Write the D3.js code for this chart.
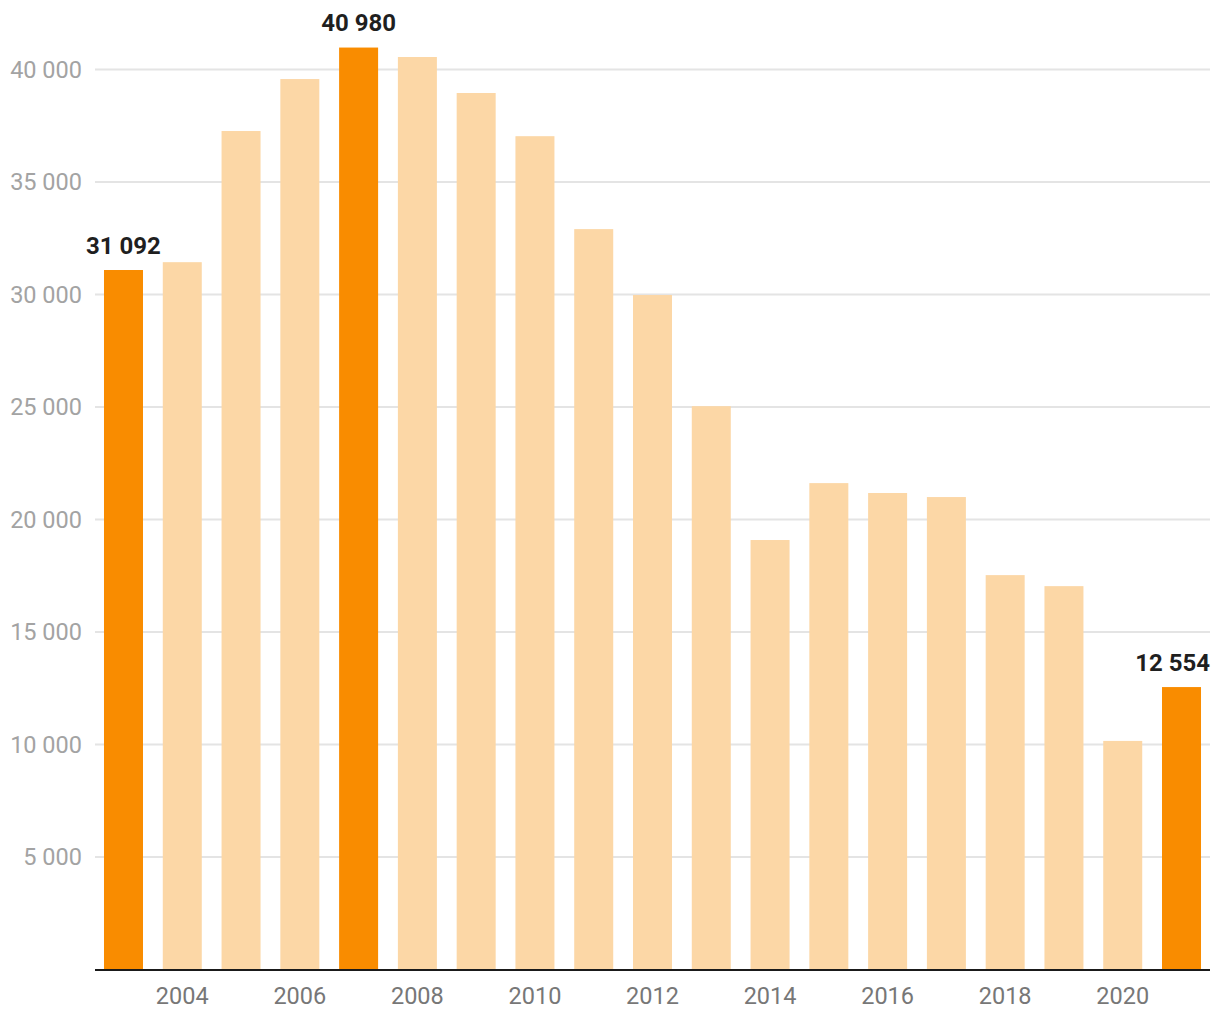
<!DOCTYPE html>
<html>
<head>
<meta charset="utf-8">
<script src="https://cdn.jsdelivr.net/npm/d3@7"></script>
<style>
  html, body { margin: 0; padding: 0; background: #ffffff; }
  svg { display: block; font-family: Roboto, "Noto Sans", sans-serif; }
</style>
</head>
<body>
<svg id="chart" width="1220" height="1020"></svg>
<script>
const years = [2003, 2004, 2005, 2006, 2007, 2008, 2009, 2010, 2011, 2012, 2013, 2014, 2015, 2016, 2017, 2018, 2019, 2020, 2021];
const values = [31092, 31440, 37270, 39580, 40980, 40560, 38960, 37040, 32910, 29980, 25040, 19090, 21620, 21180, 21000, 17530, 17040, 10160, 12554];
const highlighted = [2003, 2007, 2021];
const yTicks = [5000, 10000, 15000, 20000, 25000, 30000, 35000, 40000];
const xTickLabels = [2004, 2006, 2008, 2010, 2012, 2014, 2016, 2018, 2020];

const svg = d3.select("#chart");
const left = 95, right = 1210;
const fmt = v => d3.format(",")(v).replace(/,/g, " ");

const x = d3.scaleBand().domain(years).range([left, right]).paddingInner(0.3365).paddingOuter(0.153);
const y = d3.scaleLinear().domain([0, 40000]).range([969.5, 69.6]);

// gridlines
svg.append("g").selectAll("line").data(yTicks).join("line")
  .attr("x1", left).attr("x2", right)
  .attr("y1", d => y(d)).attr("y2", d => y(d))
  .attr("stroke", "#e4e4e4").attr("stroke-width", 2);

// y labels
svg.append("g").selectAll("text").data(yTicks).join("text")
  .attr("x", 82).attr("y", d => y(d))
  .attr("text-anchor", "end").attr("dominant-baseline", "central")
  .attr("font-size", 23.5).attr("fill", "#a3a3a3")
  .text(d => fmt(d));

// bars
svg.append("g").selectAll("rect").data(years).join("rect")
  .attr("x", d => x(d)).attr("width", x.bandwidth())
  .attr("y", (d, i) => y(values[i]))
  .attr("height", (d, i) => y(0) - y(values[i]))
  .attr("fill", d => highlighted.includes(d) ? "#f98c00" : "#fcd7a6");

// baseline
svg.append("line").attr("x1", left).attr("x2", right)
  .attr("y1", y(0) + 0.5).attr("y2", y(0) + 0.5)
  .attr("stroke", "#1a1a1a").attr("stroke-width", 2);

// x labels
svg.append("g").selectAll("text").data(xTickLabels).join("text")
  .attr("x", d => x(d) + x.bandwidth() / 2).attr("y", 1004)
  .attr("text-anchor", "middle")
  .attr("font-size", 23.5).attr("fill", "#777777")
  .text(d => d);

// value labels
const lbl = svg.append("g").selectAll("text").data(highlighted).join("text")
  .attr("y", d => y(values[years.indexOf(d)]) - 16.5)
  .attr("font-size", 24).attr("font-weight", "bold").attr("fill", "#1f1f1f")
  .attr("text-anchor", "middle")
  .text(d => fmt(values[years.indexOf(d)]));
lbl.each(function(d) {
  const w = this.getComputedTextLength();
  let cx = x(d) + x.bandwidth() / 2;
  if (cx + w / 2 > right) cx = right - w / 2;
  d3.select(this).attr("x", cx);
});
</script>
</body>
</html>
